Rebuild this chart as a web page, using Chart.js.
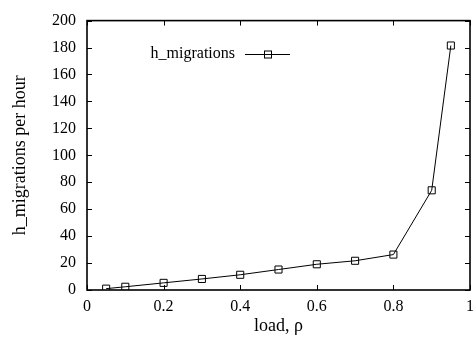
<!DOCTYPE html>
<html>
<head>
<meta charset="utf-8">
<script src="https://cdn.jsdelivr.net/npm/chart.js@4"></script>
<style>
  html, body { margin: 0; padding: 0; background: #fff; }
  #wrap { width: 476px; height: 345px; }
</style>
</head>
<body>
<div id="wrap"><canvas id="migChart"></canvas></div>
<script>
var loads = [0.05, 0.1, 0.2, 0.3, 0.4, 0.5, 0.6, 0.7, 0.8, 0.9, 0.95]
var migrations = [1, 2.4, 5.3, 8.2, 11.3, 15.2, 19.1, 21.7, 26.3, 74, 181.5]
var seriesName = 'h_migrations'
var xTitle = 'load, \u03c1'
var yTitle = 'h_migrations per hour'

var serif = "'Liberation Serif', 'Times New Roman', serif"

// gnuplot style frame, inward ticks on all sides, and the key
var gnuFrame = {
    id: 'gnuFrame',
    afterDraw: function (chart) {
        var c = chart.ctx, a = chart.chartArea
        var xs = chart.scales.x, ys = chart.scales.y
        var len = 5
        c.save()
        c.strokeStyle = '#000'
        c.lineWidth = 1
        xs.ticks.forEach(function (t) {
            var px = Math.round(xs.getPixelForValue(t.value)) + 0.5
            c.beginPath()
            c.moveTo(px, a.bottom); c.lineTo(px, a.bottom - len)
            c.moveTo(px, a.top); c.lineTo(px, a.top + len)
            c.stroke()
        })
        ys.ticks.forEach(function (t) {
            var py = Math.round(ys.getPixelForValue(t.value)) + 0.5
            c.beginPath()
            c.moveTo(a.left, py); c.lineTo(a.left + len, py)
            c.moveTo(a.right, py); c.lineTo(a.right - len, py)
            c.stroke()
        })
        c.lineWidth = 1.6
        c.strokeRect(a.left, a.top, a.right - a.left, a.bottom - a.top)

        // key
        var ky = 54
        c.font = '16px ' + serif
        c.fillStyle = '#000'
        c.textAlign = 'right'
        c.textBaseline = 'middle'
        c.fillText(seriesName, 235, ky)
        c.lineWidth = 1
        c.beginPath()
        c.moveTo(245, ky + 0.5); c.lineTo(290, ky + 0.5)
        c.stroke()
        c.strokeRect(264.5, ky - 3, 7, 7)
        c.restore()
    }
}

var ctx = document.getElementById('migChart').getContext('2d')
var migChart = new Chart(ctx,
    {
        type: 'line',
        data: {
            datasets: [{
                label: seriesName,
                data: loads.map(function (x, i) { return { x: x, y: migrations[i] } }),
                borderColor: '#000',
                borderWidth: 1,
                pointStyle: 'rect',
                pointRadius: 5,
                pointBorderWidth: 1,
                pointBorderColor: '#000',
                pointBackgroundColor: 'rgba(0,0,0,0)',
                tension: 0
            }]
        },
        options: {
            responsive: true,
            maintainAspectRatio: false,
            animation: false,
            events: [],
            layout: { padding: { top: 14, right: 3, left: 0, bottom: 0 } },
            plugins: {
                legend: { display: false },
                tooltip: { enabled: false }
            },
            scales: {
                x: {
                    type: 'linear',
                    min: 0,
                    max: 1,
                    afterFit: function (s) { s.height = 55; s.paddingRight = 0; s.paddingLeft = 0 },
                    border: { display: false },
                    grid: { display: false, drawTicks: false },
                    ticks: {
                        stepSize: 0.2,
                        padding: 7,
                        color: '#000',
                        font: { family: serif, size: 16 },
                        maxRotation: 0,
                        callback: function (v) { return +v.toFixed(1) }
                    },
                    title: {
                        display: true,
                        text: xTitle,
                        color: '#000',
                        font: { family: serif, size: 18 },
                        padding: { top: 4, bottom: 8 }
                    }
                },
                y: {
                    min: 0,
                    max: 200,
                    afterFit: function (s) { s.width = 87 },
                    border: { display: false },
                    grid: { display: false, drawTicks: false },
                    ticks: {
                        stepSize: 20,
                        padding: 11,
                        color: '#000',
                        font: { family: serif, size: 16 }
                    },
                    title: {
                        display: true,
                        text: yTitle,
                        color: '#000',
                        font: { family: serif, size: 18 },
                        padding: { top: 9, bottom: 4 }
                    }
                }
            }
        },
        plugins: [gnuFrame]
    });
</script>
</body>
</html>
